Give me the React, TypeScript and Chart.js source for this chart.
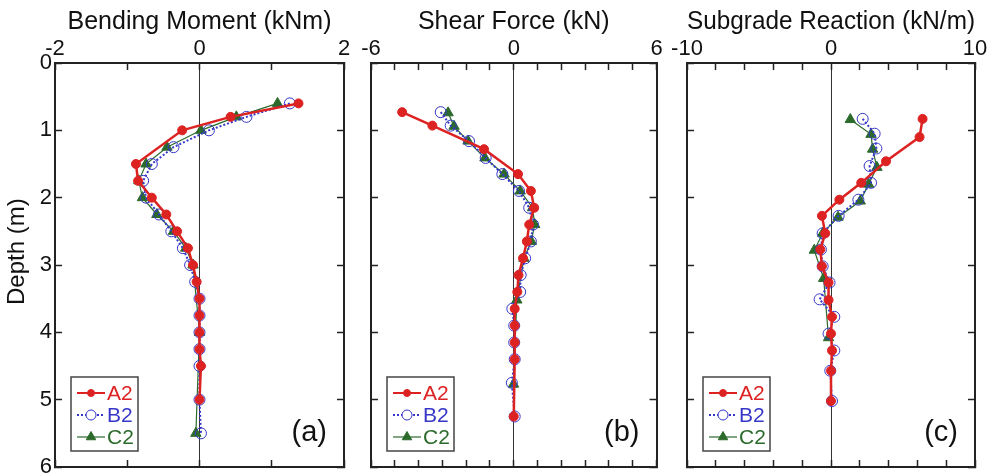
import React, { useEffect, useRef } from 'react';
import { Chart, registerables } from 'chart.js';

Chart.register(...registerables);

// ---------------- data ----------------
const seriesNames = ['A2', 'B2', 'C2'];

// (a) Bending moment (kNm) vs depth (m)
const momentDepthA2 = [0.6, 0.8, 1.0, 1.5, 1.75, 2.0, 2.25, 2.5, 2.75, 3.0, 3.25, 3.5, 3.75, 4.0, 4.25, 4.5, 5.0];
const momentA2 = [1.37, 0.43, -0.24, -0.88, -0.85, -0.66, -0.46, -0.31, -0.16, -0.09, -0.04, 0.0, 0.0, 0.0, 0.0, 0.02, 0.0];
const momentDepthB2 = [0.6, 0.8, 1.0, 1.25, 1.5, 1.75, 2.0, 2.25, 2.5, 2.75, 3.0, 3.25, 3.5, 3.75, 4.0, 4.25, 4.5, 5.0, 5.5];
const momentB2 = [1.25, 0.65, 0.13, -0.36, -0.66, -0.78, -0.74, -0.56, -0.39, -0.23, -0.13, -0.06, 0.0, 0.0, 0.0, 0.0, 0.0, 0.0, 0.02];
const momentDepthC2 = [0.6, 0.8, 1.0, 1.25, 1.5, 1.75, 2.0, 2.25, 2.5, 2.75, 3.0, 4.0, 5.5];
const momentC2 = [1.08, 0.51, 0.02, -0.45, -0.74, -0.84, -0.79, -0.59, -0.36, -0.19, -0.09, 0.0, -0.05];

// (b) Shear force (kN) vs depth (m)
const shearDepthA2 = [0.73, 0.93, 1.28, 1.65, 1.9, 2.15, 2.4, 2.65, 2.9, 3.15, 3.4, 3.65, 3.9, 4.15, 4.4, 5.25];
const shearA2 = [-4.69, -3.42, -1.25, 0.18, 0.72, 0.86, 0.65, 0.55, 0.39, 0.2, 0.15, 0.04, 0.04, 0.04, 0.04, 0.0];
const shearDepthB2 = [0.73, 0.93, 1.16, 1.41, 1.65, 1.9, 2.15, 2.4, 2.65, 2.9, 3.15, 3.4, 3.65, 3.9, 4.15, 4.4, 4.75, 5.25];
const shearB2 = [-3.07, -2.65, -1.88, -1.18, -0.48, 0.22, 0.65, 0.81, 0.72, 0.48, 0.29, 0.27, -0.06, 0.02, 0.02, 0.04, -0.08, 0.04];
const shearDepthC2 = [0.74, 0.94, 1.16, 1.41, 1.65, 1.9, 2.15, 2.4, 2.65, 2.9, 3.52, 4.77];
const shearC2 = [-2.76, -2.51, -1.92, -1.21, -0.41, 0.27, 0.79, 0.88, 0.74, 0.43, 0.13, -0.01];

// (c) Subgrade reaction (kN/m) vs depth (m)
const subDepthA2 = [0.83, 1.1, 1.46, 1.78, 2.03, 2.27, 2.53, 2.77, 3.02, 3.26, 3.52, 3.77, 4.02, 4.27, 4.57, 5.02];
const subA2 = [6.36, 6.15, 3.82, 2.1, 0.58, -0.63, -0.4, -0.74, -0.63, -0.17, -0.17, 0.07, 0.0, 0.07, 0.0, 0.0];
const subDepthB2 = [0.83, 1.05, 1.27, 1.53, 1.78, 2.03, 2.27, 2.53, 2.77, 3.02, 3.26, 3.51, 3.77, 4.02, 4.27, 4.57, 5.02];
const subB2 = [2.2, 3.03, 3.15, 2.68, 2.78, 1.9, 0.53, -0.58, -0.7, -0.58, -0.1, -0.79, 0.23, -0.17, 0.23, -0.05, 0.07];
const subDepthC2 = [0.84, 1.06, 1.28, 1.55, 1.8, 2.05, 2.29, 2.53, 2.78, 3.2, 4.08];
const subC2 = [1.34, 2.78, 2.89, 3.19, 2.61, 2.03, 0.49, -0.58, -1.16, -0.51, -0.17];

const panelTitles = ['Bending Moment (kNm)', 'Shear Force (kN)', 'Subgrade Reaction (kN/m)'];
const panelTags = ['(a)', '(b)', '(c)'];
const xRanges = [[-2, 2], [-6, 6], [-10, 10]];
const xSteps = [1, 1, 2];
const xLabelValues = [[-2, 0, 2], [-6, 0, 6], [-10, 0, 10]];
const depthRange = [0, 6];
const depthTicks = 1;
const depthTitle = 'Depth (m)';

// ---------------- layout / style ----------------
const W = 994;
const H = 476;
const PLOT_TOP = 63;
const PLOT_BOTTOM = 467;
const plotLefts = [55, 371, 687];
const plotRights = [344, 656.5, 975];
const FONT = "'Liberation Sans', Arial, Helvetica, sans-serif";
const colors = ['#dd2222', '#3636c8', '#2c6a2c'];
const INK = '#111';
const AXIS = '#222';

type XY = { x: number; y: number };
const toXY = (depth: number[], vals: number[]): XY[] => depth.map((d, i) => ({ x: vals[i], y: d }));

const panelSeries: XY[][][] = [
  [toXY(momentDepthA2, momentA2), toXY(momentDepthB2, momentB2), toXY(momentDepthC2, momentC2)],
  [toXY(shearDepthA2, shearA2), toXY(shearDepthB2, shearB2), toXY(shearDepthC2, shearC2)],
  [toXY(subDepthA2, subA2), toXY(subDepthB2, subB2), toXY(subDepthC2, subC2)],
];

function makeDatasets(series: XY[][]) {
  return [
    {
      label: seriesNames[0],
      data: series[0],
      showLine: true,
      borderColor: colors[0],
      backgroundColor: colors[0],
      borderWidth: 2.5,
      pointStyle: 'circle',
      pointRadius: 4.5,
      pointBackgroundColor: colors[0],
      pointBorderColor: colors[0],
      pointBorderWidth: 1,
      tension: 0,
    },
    {
      label: seriesNames[1],
      data: series[1],
      showLine: true,
      borderColor: colors[1],
      backgroundColor: 'rgba(0,0,0,0)',
      borderWidth: 2,
      borderDash: [2, 2],
      pointStyle: 'circle',
      pointRadius: 5.5,
      pointBackgroundColor: 'rgba(0,0,0,0)',
      pointBorderColor: colors[1],
      pointBorderWidth: 1,
      tension: 0,
    },
    {
      label: seriesNames[2],
      data: series[2],
      showLine: true,
      borderColor: colors[2],
      backgroundColor: colors[2],
      borderWidth: 1.2,
      pointStyle: 'triangle',
      pointRadius: 6,
      pointBackgroundColor: colors[2],
      pointBorderColor: colors[2],
      pointBorderWidth: 1,
      tension: 0,
    },
  ];
}

function drawMarker(ctx: CanvasRenderingContext2D, style: string, x: number, y: number, r: number, fill: string, stroke: string) {
  ctx.save();
  ctx.beginPath();
  if (style === 'triangle') {
    ctx.moveTo(x, y - r);
    ctx.lineTo(x + r * 0.866, y + r * 0.5);
    ctx.lineTo(x - r * 0.866, y + r * 0.5);
    ctx.closePath();
  } else {
    ctx.arc(x, y, r, 0, Math.PI * 2);
  }
  ctx.fillStyle = fill;
  ctx.fill();
  ctx.strokeStyle = stroke;
  ctx.lineWidth = 1;
  ctx.stroke();
  ctx.restore();
}

function decoPlugin(tag: string) {
  return {
    id: 'panelDeco',
    afterDraw(chart: any) {
      const { ctx, chartArea } = chart;
      // legend box
      const bx = chartArea.left + 16;
      const by = chartArea.bottom - 90;
      const bw = 67;
      const bh = 74;
      ctx.save();
      ctx.fillStyle = '#fff';
      ctx.fillRect(bx, by, bw, bh);
      ctx.strokeStyle = '#444';
      ctx.lineWidth = 1.5;
      ctx.strokeRect(bx, by, bw, bh);
      const markerR = [3.5, 5, 5.5];
      chart.data.datasets.forEach((ds: any, i: number) => {
        const y = by + 16 + 22 * i;
        ctx.save();
        ctx.strokeStyle = ds.borderColor;
        ctx.lineWidth = Math.min(ds.borderWidth, 2);
        ctx.setLineDash(ds.borderDash || []);
        ctx.beginPath();
        ctx.moveTo(bx + 6, y);
        ctx.lineTo(bx + 34, y);
        ctx.stroke();
        ctx.restore();
        drawMarker(ctx, ds.pointStyle, bx + 20, y, markerR[i], ds.pointBackgroundColor === 'rgba(0,0,0,0)' ? '#fff' : ds.pointBackgroundColor, ds.pointBorderColor);
        ctx.fillStyle = ds.borderColor;
        ctx.font = `21px ${FONT}`;
        ctx.textAlign = 'left';
        ctx.textBaseline = 'middle';
        ctx.fillText(ds.label, bx + 36, y + 1);
      });
      // panel tag
      ctx.fillStyle = INK;
      ctx.font = `29px ${FONT}`;
      ctx.textAlign = 'right';
      ctx.textBaseline = 'middle';
      ctx.fillText(tag, chartArea.right - 17, chartArea.bottom - 34);
      ctx.restore();
    },
  };
}

const fixHeight = (h: number) => (s: any) => {
  s.height = h;
  s.paddingLeft = 0;
  s.paddingRight = 0;
  s.paddingTop = 0;
  s.paddingBottom = 0;
};
const fixWidth = (w: number) => (s: any) => {
  s.width = w;
  s.paddingLeft = 0;
  s.paddingRight = 0;
  s.paddingTop = 0;
  s.paddingBottom = 0;
};

function buildConfig(i: number): any {
  const showY = i === 0;
  const [xmin, xmax] = xRanges[i];
  const labels = xLabelValues[i];
  const tickGrid = {
    drawOnChartArea: false,
    tickLength: -7,
    tickColor: AXIS,
    tickWidth: 1.5,
  };
  const border = { display: true, color: AXIS, width: 2 };
  return {
    type: 'scatter',
    data: { datasets: makeDatasets(panelSeries[i]) },
    options: {
      responsive: false,
      animation: false,
      devicePixelRatio: 1,
      events: [],
      layout: {
        padding: {
          left: showY ? 0 : plotLefts[i],
          right: W - plotRights[i],
          top: 0,
          bottom: H - PLOT_BOTTOM,
        },
      },
      plugins: {
        legend: { display: false },
        tooltip: { enabled: false },
      },
      scales: {
        x: {
          type: 'linear',
          position: 'top',
          min: xmin,
          max: xmax,
          ticks: {
            stepSize: xSteps[i],
            autoSkip: false,
            maxRotation: 0,
            padding: 8,
            color: INK,
            font: { family: FONT, size: 22 },
            callback: (v: number) => (labels.includes(v) ? String(v) : ''),
          },
          grid: {
            drawOnChartArea: true,
            color: (c: any) => (c.tick && c.tick.value === 0 ? '#333' : 'rgba(0,0,0,0)'),
            lineWidth: 1,
            tickLength: -7,
            tickColor: AXIS,
            tickWidth: 1.5,
          },
          border,
          title: {
            display: true,
            text: panelTitles[i],
            color: INK,
            font: { family: FONT, size: 25 },
            padding: { top: 7, bottom: 0 },
          },
          afterFit: fixHeight(PLOT_TOP),
        },
        x2: {
          type: 'linear',
          axis: 'x',
          position: 'bottom',
          min: xmin,
          max: xmax,
          ticks: { stepSize: xSteps[i], display: false },
          grid: tickGrid,
          border,
          afterFit: fixHeight(0),
        },
        y: {
          type: 'linear',
          position: 'left',
          min: depthRange[0],
          max: depthRange[1],
          reverse: true,
          ticks: {
            stepSize: depthTicks,
            display: showY,
            padding: 10,
            color: INK,
            font: { family: FONT, size: 22 },
          },
          grid: tickGrid,
          border,
          title: {
            display: showY,
            text: '    ' + depthTitle,
            color: INK,
            font: { family: FONT, size: 24 },
            padding: { top: 3, bottom: 0 },
          },
          afterFit: fixWidth(showY ? plotLefts[0] : 0),
        },
        y2: {
          type: 'linear',
          axis: 'y',
          position: 'right',
          min: depthRange[0],
          max: depthRange[1],
          reverse: true,
          ticks: { stepSize: depthTicks, display: false },
          grid: tickGrid,
          border,
          afterFit: fixWidth(0),
        },
      },
    },
    plugins: [decoPlugin(panelTags[i])],
  };
}

function PanelChart({ index }: { index: number }) {
  const ref = useRef<HTMLCanvasElement | null>(null);
  useEffect(() => {
    if (!ref.current) return;
    const chart = new Chart(ref.current, buildConfig(index));
    return () => chart.destroy();
  }, [index]);
  return (
    <canvas
      ref={ref}
      width={W}
      height={H}
      style={{ position: 'absolute', left: 0, top: 0, width: W, height: H }}
    />
  );
}

export default function App() {
  return (
    <div style={{ position: 'fixed', left: 0, top: 0, width: W, height: H, background: '#fff', overflow: 'hidden' }}>
      {[0, 1, 2].map((i) => (
        <PanelChart key={i} index={i} />
      ))}
    </div>
  );
}
